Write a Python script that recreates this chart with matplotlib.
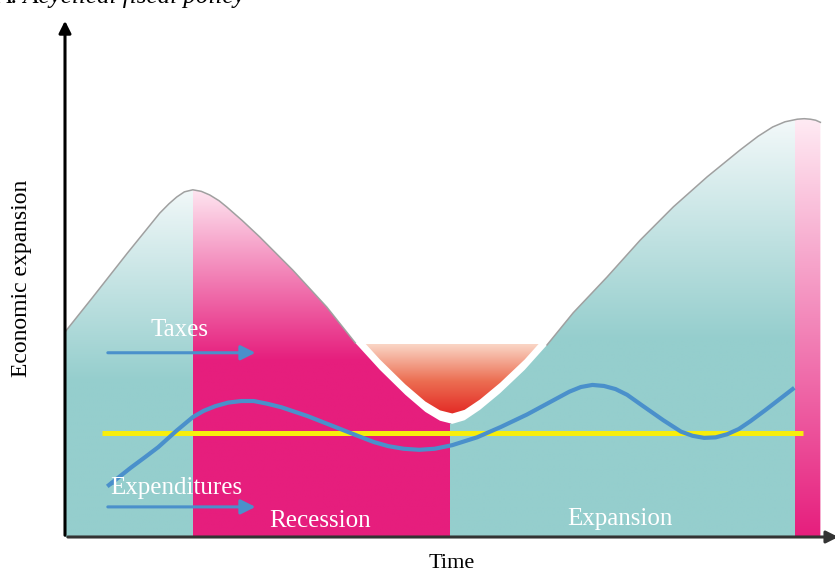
import numpy as np
import matplotlib
matplotlib.use("Agg")
import matplotlib.pyplot as plt
from matplotlib.patches import Polygon

# Envelope of the business cycle (time, economic expansion)
env_x = [0.00, 0.36, 0.81, 1.23, 1.35, 1.45, 1.55, 1.66, 1.77, 1.88, 2.00, 2.10, 2.30,
         2.53, 2.96, 3.40, 3.77, 4.09, 4.42, 4.68, 4.87, 5.03, 5.19, 5.39, 5.65, 5.97,
         6.26, 6.60, 7.04, 7.47, 7.90, 8.34, 8.77, 9.00, 9.19, 9.35, 9.51, 9.60, 9.68,
         9.75, 9.81]
env_y = [3.95, 4.62, 5.47, 6.24, 6.42, 6.55, 6.65, 6.69, 6.66, 6.59, 6.48, 6.36, 6.10,
         5.78, 5.14, 4.43, 3.74, 3.22, 2.74, 2.41, 2.24, 2.18, 2.25, 2.45, 2.77, 3.22,
         3.70, 4.32, 5.01, 5.72, 6.36, 6.94, 7.46, 7.72, 7.90, 8.00, 8.05, 8.06, 8.05,
         8.03, 7.99]

# Phase boundaries: expansion / recession / expansion / recession
phase_edges = [0.0, 1.66, 5.0, 9.48, 9.81]
phase_kind = ["teal", "pink", "teal", "pink"]

# Fiscal policy wave (acyclical)
wave_x = [0.57, 0.85, 1.05, 1.21, 1.45, 1.66, 1.80, 1.95, 2.12, 2.29, 2.45, 2.62, 2.81,
          3.15, 3.51, 3.80, 4.01, 4.20, 4.40, 4.60, 4.80, 5.03, 5.35, 5.66, 6.00, 6.30,
          6.55, 6.70, 6.85, 7.00, 7.15, 7.30, 7.50, 7.77, 8.00, 8.15, 8.30, 8.45, 8.60,
          8.75, 8.90, 9.10, 9.45]
wave_y = [1.00, 1.33, 1.55, 1.73, 2.05, 2.31, 2.43, 2.52, 2.59, 2.62, 2.62, 2.57, 2.50,
          2.33, 2.12, 1.95, 1.83, 1.75, 1.70, 1.68, 1.70, 1.77, 1.92, 2.12, 2.36, 2.60,
          2.80, 2.89, 2.93, 2.91, 2.85, 2.74, 2.53, 2.25, 2.03, 1.95, 1.91, 1.92, 1.98,
          2.08, 2.23, 2.45, 2.85]

trend_x = [0.48, 9.58]
trend_y = [2.00, 2.00]

teal = np.array([149, 206, 205]) / 255
pink = np.array([230, 30, 125]) / 255
blue = "#4A90CB"

fig = plt.figure(figsize=(8.35, 5.75), dpi=100)
ax = fig.add_axes([65 / 835, 38 / 575, 770 / 835, 519 / 575])

env_poly = Polygon(list(zip(env_x, env_y)) + [(env_x[-1], 0), (0, 0)],
                   closed=True, facecolor="none", edgecolor="none")
ax.add_patch(env_poly)

# vertical gradients for each phase
grad_y = np.linspace(0, 8.2, 300)
fade = {"teal": [(3.0, 6.8), (3.8, 8.1)], "pink": [(3.4, 6.8), (0.0, 8.1)]}
light = {"teal": np.array([244, 249, 250]) / 255, "pink": np.array([255, 236, 244]) / 255}
for i, kind in enumerate(phase_kind):
    y0, y1 = fade[kind][0] if i < 2 else fade[kind][1]
    t = np.clip((grad_y - y0) / (y1 - y0), 0, 1)[:, None]
    solid = teal if kind == "teal" else pink
    img = (solid * (1 - t) + light[kind] * t)[:, None, :]
    im = ax.imshow(img, extent=[phase_edges[i], phase_edges[i + 1], 0, 8.2],
                   origin="lower", aspect="auto", interpolation="bilinear", zorder=1)
    im.set_clip_path(env_poly)

# outline of the envelope (hidden in the trough)
ex = np.array(env_x)
ey = np.array(env_y)
ax.plot(ex, np.ma.masked_where(ey < 3.7, ey), color="#a0a0a0", lw=1.1, zorder=2)

# red trough funnel
top = 3.72
fun_x = [x for x in env_x if 3.3 < x < 6.7]
fun_y = [y + 0.2 for x, y in zip(env_x, env_y) if 3.3 < x < 6.7]
fun_poly = Polygon(list(zip(fun_x, fun_y)) + [(fun_x[-1], 6), (fun_x[0], 6)],
                   closed=True, facecolor="none", edgecolor="none")
ax.add_patch(fun_poly)
fy = np.linspace(2.3, top, 200)
ft = ((fy - 2.3) / (top - 2.3))[:, None]
c_bot = np.array([226, 34, 32]) / 255
c_mid = np.array([236, 110, 82]) / 255
c_top = np.array([250, 214, 198]) / 255
fimg = np.where(ft < 0.5, c_bot * (1 - 2 * ft) + c_mid * 2 * ft,
                c_mid * (2 - 2 * ft) + c_top * (2 * ft - 1))[:, None, :]
fim = ax.imshow(fimg, extent=[3.3, 6.7, 2.3, top], origin="lower", aspect="auto",
                interpolation="bilinear", zorder=3)
fim.set_clip_path(fun_poly)

# trend and wave
ax.plot(trend_x, trend_y, color="#F7EE0C", lw=3.6, solid_capstyle="butt", zorder=4)
ax.plot(wave_x, wave_y, color=blue, lw=3, zorder=5)
ax.annotate("", xy=(wave_x[0] - 0.03, wave_y[0] - 0.05), xytext=(wave_x[1], wave_y[1]),
            arrowprops=dict(arrowstyle="-|>", color=blue, lw=0, mutation_scale=9), zorder=5)

# taxes / expenditures arrows
ax.annotate("", xy=(2.51, 3.55), xytext=(0.52, 3.55),
            arrowprops=dict(arrowstyle="-|>", color=blue, lw=2.2, mutation_scale=22), zorder=5)
ax.annotate("", xy=(2.51, 0.58), xytext=(0.52, 0.58),
            arrowprops=dict(arrowstyle="-|>", color=blue, lw=2.2, mutation_scale=22), zorder=5)

serif = "Liberation Serif"
ax.text(1.49, 3.99, "Taxes", color="white", family=serif, size=18, ha="center", va="center", zorder=6)
ax.text(1.45, 0.94, "Expenditures", color="white", family=serif, size=18, ha="center", va="center", zorder=6)
ax.text(3.31, 0.31, "Recession", color="white", family=serif, size=18, ha="center", va="center", zorder=6)
ax.text(7.21, 0.35, "Expansion", color="white", family=serif, size=18, ha="center", va="center", zorder=6)

# axes with arrows
ax.annotate("", xy=(0, 10), xytext=(0, -0.02),
            arrowprops=dict(arrowstyle="-|>", color="black", lw=2.2, mutation_scale=18),
            annotation_clip=False, zorder=7)
ax.annotate("", xy=(10.08, 0), xytext=(0, 0),
            arrowprops=dict(arrowstyle="-|>", color="#333333", lw=2.2, mutation_scale=18),
            annotation_clip=False, zorder=7)

ax.set_xlim(0, 10)
ax.set_ylim(0, 10)
ax.axis("off")

fig.text(22 / 835, 1 - 278 / 575, "Economic expansion", rotation=90, family=serif,
         size=17, ha="center", va="center")
fig.text(452 / 835, 1 - 563 / 575, "Time", family=serif, size=16, ha="center", va="center")
fig.text(-4 / 835, 1 - 3 / 575, "A. Acyclical fiscal policy", family=serif, style="italic",
         size=18, ha="left", va="baseline")

fig.savefig("out.png", dpi=100)
